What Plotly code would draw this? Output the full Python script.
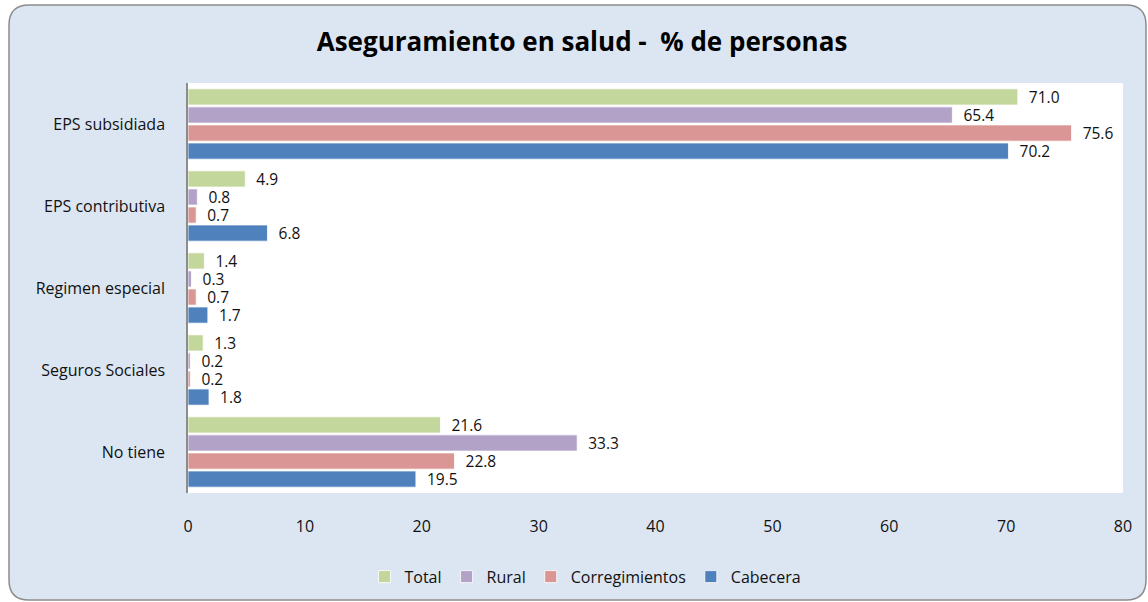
import plotly.graph_objects as go

categories = ["EPS subsidiada", "EPS contributiva", "Regimen especial", "Seguros Sociales", "No tiene"]
series_names = ["Total", "Rural", "Corregimientos", "Cabecera"]
total = [71.0, 4.9, 1.4, 1.3, 21.6]
rural = [65.4, 0.8, 0.3, 0.2, 33.3]
corregimientos = [75.6, 0.7, 0.7, 0.2, 22.8]
cabecera = [70.2, 6.8, 1.7, 1.8, 19.5]
colors = ["#C3D69B", "#B3A2C7", "#D99694", "#4F81BD"]
x_ticks = [0, 10, 20, 30, 40, 50, 60, 70, 80]

FONT = "'Open Sans', sans-serif"
W, H = 1148, 602
L, R, T, B = 188, 25, 83, 109

fig = go.Figure()
for name, vals, col in zip(series_names, [total, rural, corregimientos, cabecera], colors):
    fig.add_trace(go.Bar(
        y=categories, x=vals, name=name, orientation="h",
        marker=dict(color=col, line=dict(color="rgba(255,255,255,0.8)", width=1)),
        texttemplate="\u00a0\u00a0%{x:.1f}", textposition="outside", cliponaxis=False,
        constraintext="none",
        textfont=dict(size=15.5, color="#111111", family=FONT),
    ))

# rounded background frame (pixel coordinates relative to plot bottom-left)
def rrect(x0, y0, x1, y1, r):
    def p(px, py):
        return f"{px - L},{(H - B) - py}"
    return (f"M {p(x0 + r, y0)} L {p(x1 - r, y0)} Q {p(x1, y0)} {p(x1, y0 + r)} "
            f"L {p(x1, y1 - r)} Q {p(x1, y1)} {p(x1 - r, y1)} "
            f"L {p(x0 + r, y1)} Q {p(x0, y1)} {p(x0, y1 - r)} "
            f"L {p(x0, y0 + r)} Q {p(x0, y0)} {p(x0 + r, y0)} Z")

shapes = [
    dict(type="path", xref="paper", yref="paper", xsizemode="pixel", ysizemode="pixel",
         xanchor=0, yanchor=0, path=rrect(9, 5, 1146, 600, 20),
         fillcolor="#DCE6F2", line=dict(color="#8C8C8C", width=1.5), layer="below"),
    dict(type="rect", xref="paper", yref="paper", x0=0, x1=1, y0=0, y1=1,
         fillcolor="white", line=dict(width=0), layer="below"),
]

fig.update_layout(
    width=W, height=H,
    margin=dict(l=L, r=R, t=T, b=B),
    paper_bgcolor="white", plot_bgcolor="rgba(0,0,0,0)",
    barmode="group", bargap=0.12, bargroupgap=0.1,
    font=dict(family=FONT, size=16, color="#111111"),
    title=dict(text="<b>Aseguramiento en salud -  % de personas</b>", xref="container",
               x=0.507, xanchor="center", yref="container", y=0.93, yanchor="middle",
               font=dict(size=26, family=FONT, color="#000000")),
    legend=dict(orientation="h", xref="container", x=0.51, xanchor="center",
                yref="container", y=0.042, yanchor="middle", traceorder="normal",
                font=dict(size=16, family=FONT), bgcolor="rgba(0,0,0,0)"),
    shapes=shapes,
    showlegend=True,
)
fig.update_xaxes(range=[0, 80], tickvals=x_ticks, showgrid=False, zeroline=False,
                 showline=False, ticks="", ticklabelstandoff=22,
                 tickfont=dict(size=16, family=FONT))
fig.update_yaxes(autorange="reversed", showgrid=False, showline=True, linecolor="#8C8C8C",
                 linewidth=1.5, ticks="", ticklabelstandoff=18,
                 tickfont=dict(size=16, family=FONT))

fig.write_html("out.html", config={"displayModeBar": False},
               post_script="document.body.style.margin='0';")
